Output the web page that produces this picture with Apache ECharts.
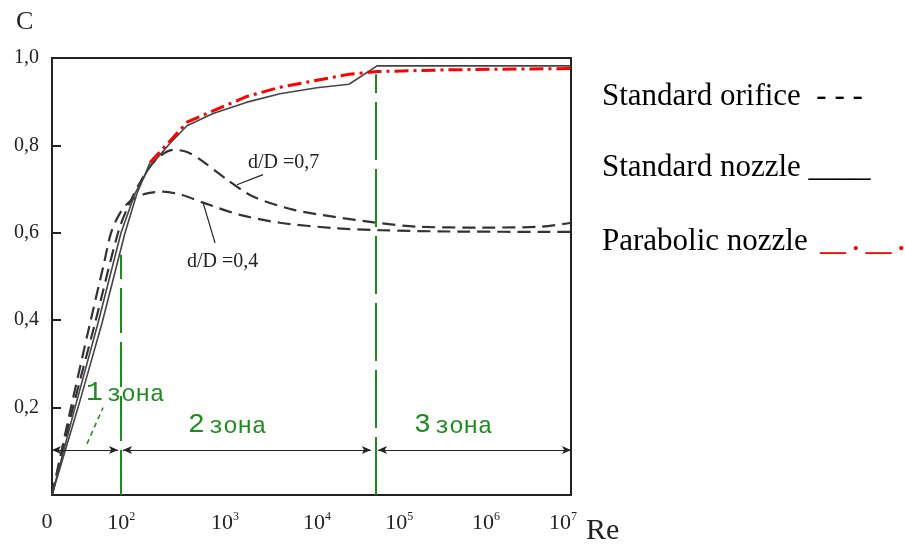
<!DOCTYPE html>
<html><head><meta charset="utf-8">
<script src="https://cdn.jsdelivr.net/npm/echarts@6/dist/echarts.min.js"></script>
<style>html,body{margin:0;padding:0;background:#fff}#c{width:905px;height:547px}</style>
</head><body><div id="c"></div>
<script>
// x axis: drawn position units (0 = "0", 7 = 10^7), as read from the reference's non-uniform scale
const xTickPos = [0, 1.0, 2.40, 3.64, 4.75, 5.92, 6.96];
const xTickExp = ['', '2', '3', '4', '5', '6', '7'];
const yTicks = [0, 0.2, 0.4, 0.6, 0.8, 1.0];

// Standard orifice d/D = 0.7 (dashed)
const orifice07X = [0, 0.283, 0.580, 0.890, 1.025, 1.187, 1.389, 1.632, 1.821, 1.996, 2.360, 2.711, 3.251, 3.790, 4.384, 4.923, 5.813, 6.582, 7.0];
const orifice07Y = [0, 0.20, 0.393, 0.60, 0.66, 0.715, 0.765, 0.79, 0.785, 0.768, 0.722, 0.683, 0.653, 0.637, 0.623, 0.614, 0.612, 0.614, 0.623];
// Standard orifice d/D = 0.4 (dashed)
const orifice04X = [0, 0.256, 0.513, 0.701, 0.796, 0.917, 1.052, 1.254, 1.497, 1.767, 2.037, 2.536, 3.075, 3.790, 4.424, 5.368, 7.0];
const orifice04Y = [0, 0.20, 0.393, 0.53, 0.60, 0.645, 0.672, 0.689, 0.694, 0.686, 0.669, 0.641, 0.623, 0.611, 0.606, 0.603, 0.602];
// Standard nozzle (solid)
const nozzleX = [0, 0.310, 0.620, 0.931, 1.120, 1.322, 1.592, 1.821, 2.172, 2.630, 3.075, 3.574, 4.006, 4.384, 7.0];
const nozzleY = [0, 0.20, 0.393, 0.60, 0.69, 0.752, 0.805, 0.845, 0.873, 0.899, 0.918, 0.932, 0.940, 0.982, 0.982];
// Parabolic nozzle: rising part (solid) and upper part (red dash-dot)
const paraLowX = [0, 0.351, 0.674, 0.985, 1.146, 1.322];
const paraLowY = [0, 0.20, 0.393, 0.60, 0.69, 0.761];
const paraX = [1.322, 1.592, 1.821, 2.266, 2.630, 3.075, 3.574, 3.979, 4.384, 5.368, 7.0];
const paraY = [0.761, 0.81, 0.853, 0.886, 0.912, 0.933, 0.949, 0.962, 0.969, 0.973, 0.976];

// zone boundaries (x units) and arrow level
const zoneBounds = [0.931, 4.37];
const arrowY = 0.103;

const pair = (xs, ys) => xs.map((x, i) => [x, ys[i]]);
const green = '#1d8c1d';
const ink = '#222';

const zoneRich = {
  n: {fontFamily: 'Liberation Mono', fontSize: 28, fill: green},
  t: {fontFamily: 'Liberation Mono', fontSize: 24, fill: green, padding: [4, 0, 0, 4]}
};

const chart = echarts.init(document.getElementById('c'), null, {renderer: 'canvas'});
const option = {
  animation: false,
  grid: {left: 52, right: 334, top: 58, bottom: 52, show: true, borderColor: ink, borderWidth: 2},
  xAxis: {
    type: 'value', min: 0, max: 7,
    splitLine: {show: false}, axisTick: {show: false},
    axisLine: {lineStyle: {color: ink, width: 2}},
    axisLabel: {
      customValues: xTickPos, margin: 16, padding: [0, 10, 0, 0], color: ink,
      formatter: function (v) {
        let i = xTickPos.findIndex(p => Math.abs(p - v) < 1e-6);
        if (i <= 0) return '{b|0}';
        return '{b|10}{s|' + xTickExp[i] + '}';
      },
      rich: {
        b: {fontFamily: 'Liberation Serif', fontSize: 22, color: ink},
        s: {fontFamily: 'Liberation Serif', fontSize: 12, color: ink, padding: [0, 0, 12, 0]}
      }
    }
  },
  yAxis: {
    type: 'value', min: 0, max: 1, interval: 0.2,
    splitLine: {show: false},
    axisLine: {show: true, lineStyle: {color: ink, width: 2}},
    axisTick: {show: true, inside: true, length: 9, lineStyle: {color: ink, width: 2}},
    axisLabel: {
      margin: 13, color: ink, fontFamily: 'Liberation Serif', fontSize: 20,
      formatter: v => v === 0 ? '' : v.toFixed(1).replace('.', ',')
    }
  },
  series: [
    {
      name: 'Standard orifice d/D=0,7', type: 'line', data: pair(orifice07X, orifice07Y),
      showSymbol: false, smooth: 0.3, lineStyle: {color: '#333', width: 2.2, type: [13, 7]},
      markLine: {
        silent: true, symbol: 'none', label: {show: false},
        data: [
          [{coord: [zoneBounds[0], 0], lineStyle: {color: green, width: 2, type: [45, 9]}}, {coord: [zoneBounds[0], 0.55]}],
          [{coord: [zoneBounds[1], 0], lineStyle: {color: green, width: 2, type: [58, 9]}}, {coord: [zoneBounds[1], 0.963]}],
          [{coord: [0, arrowY], symbol: 'arrow', symbolSize: [6, 9], lineStyle: {color: ink, width: 1.2, type: 'solid'}}, {coord: [0.89, arrowY], symbol: 'arrow', symbolSize: [6, 9]}],
          [{coord: [0.958, arrowY], symbol: 'arrow', symbolSize: [6, 9], lineStyle: {color: ink, width: 1.2, type: 'solid'}}, {coord: [4.30, arrowY], symbol: 'arrow', symbolSize: [6, 9]}],
          [{coord: [4.397, arrowY], symbol: 'arrow', symbolSize: [6, 9], lineStyle: {color: ink, width: 1.2, type: 'solid'}}, {coord: [7, arrowY], symbol: 'arrow', symbolSize: [6, 9]}],
          [{coord: [0.472, 0.117], lineStyle: {color: green, width: 1.5, type: [5, 4]}}, {coord: [0.688, 0.20]}],
          [{coord: [2.495, 0.710], lineStyle: {color: ink, width: 1.2, type: 'solid'}}, {coord: [2.846, 0.733]}],
          [{coord: [2.037, 0.669], lineStyle: {color: ink, width: 1.2, type: 'solid'}}, {coord: [2.199, 0.577]}]
        ]
      }
    },
    {
      name: 'Standard orifice d/D=0,4', type: 'line', data: pair(orifice04X, orifice04Y),
      showSymbol: false, smooth: 0.3, lineStyle: {color: '#333', width: 2.2, type: [13, 7]}
    },
    {
      name: 'Standard nozzle', type: 'line', data: pair(nozzleX, nozzleY),
      showSymbol: false, smooth: false, lineStyle: {color: '#444', width: 1.6}
    },
    {
      name: 'Parabolic nozzle (rise)', type: 'line', data: pair(paraLowX, paraLowY),
      showSymbol: false, smooth: false, lineStyle: {color: '#444', width: 1.6}
    },
    {
      name: 'Parabolic nozzle', type: 'line', data: pair(paraX, paraY),
      showSymbol: false, smooth: false, lineStyle: {color: '#ff0000', width: 3, type: [14, 5, 3, 5]}
    }
  ],
  graphic: [
    {type: 'text', left: 16, top: 9, style: {text: 'C', font: '26px "Liberation Serif"', fill: ink}},
    {type: 'text', left: 586, top: 516, style: {text: 'Re', font: '30px "Liberation Serif"', fill: ink}},
    {type: 'text', x: 248, y: 163, style: {text: 'd/D =0,7', font: '20px "Liberation Serif"', fill: ink, verticalAlign: 'middle'}},
    {type: 'text', x: 187, y: 262, style: {text: 'd/D =0,4', font: '20px "Liberation Serif"', fill: ink, verticalAlign: 'middle'}},
    {type: 'text', x: 86, y: 393, style: {text: '{n|1}{t|зона}', verticalAlign: 'middle', rich: zoneRich}},
    {type: 'text', x: 188, y: 425, style: {text: '{n|2}{t|зона}', verticalAlign: 'middle', rich: zoneRich}},
    {type: 'text', x: 414, y: 425, style: {text: '{n|3}{t|зона}', verticalAlign: 'middle', rich: zoneRich}},
    {type: 'text', x: 602, y: 97, style: {text: 'Standard orifice  - - -', font: '31px "Liberation Serif"', fill: '#000', verticalAlign: 'middle'}},
    {type: 'text', x: 602, y: 168, style: {text: 'Standard nozzle ____', font: '31px "Liberation Serif"', fill: '#000', verticalAlign: 'middle'}},
    {type: 'text', x: 602, y: 242, style: {text: 'Parabolic nozzle', font: '31px "Liberation Serif"', fill: '#000', verticalAlign: 'middle'}},
    {type: 'text', x: 820, y: 243, style: {text: '__ . __ .', font: 'bold 26px "Liberation Serif"', fill: '#ff0000', verticalAlign: 'middle'}}
  ]
};
chart.setOption(option);
</script>
</body></html>
